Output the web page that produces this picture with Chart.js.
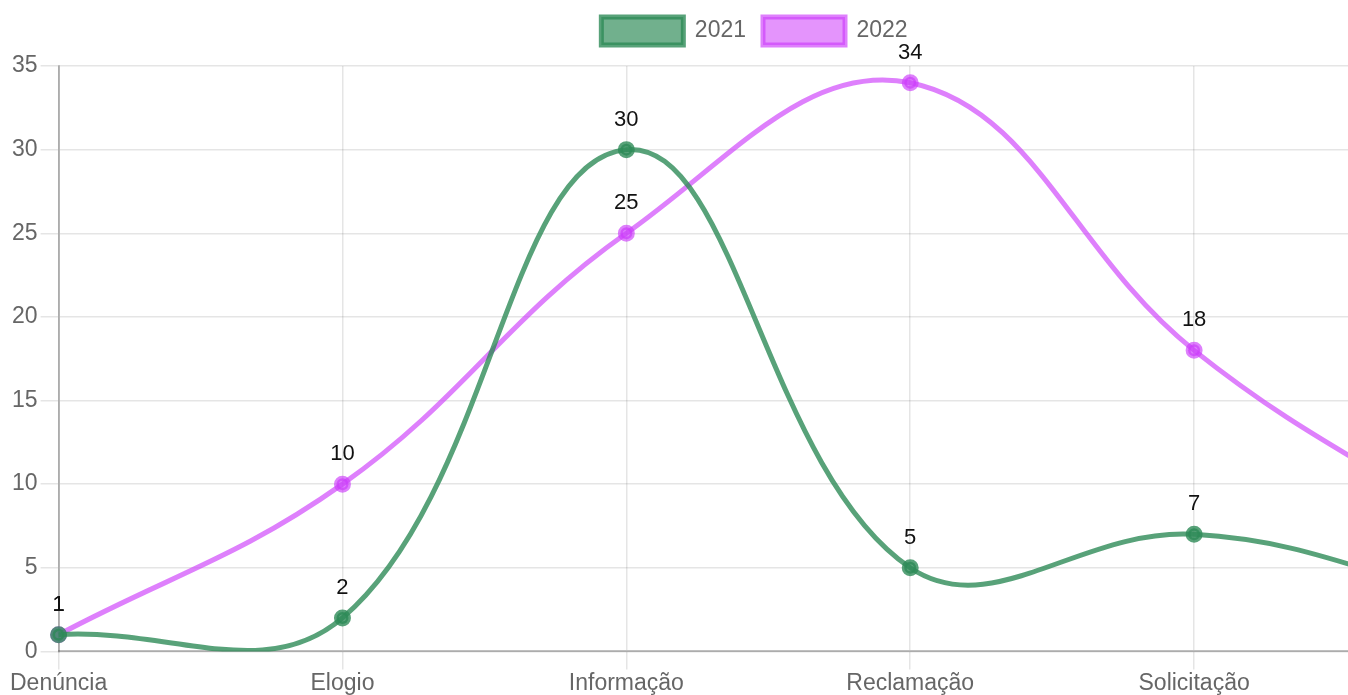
<!DOCTYPE html>
<html>
<head>
<meta charset="utf-8">
<script src="https://cdn.jsdelivr.net/npm/chart.js@4.4.0/dist/chart.umd.min.js"></script>
<style>
  html, body { margin: 0; padding: 0; overflow: hidden; background: #fff; }
  #wrap { width: 1500px; height: 697px; }
</style>
</head>
<body>
<div id="wrap"><canvas id="lineChart"></canvas></div>
<script>
// --- Data ---
const categories = ["Denúncia", "Elogio", "Informação", "Reclamação", "Solicitação", "Sugestão"];
const values2021 = [1, 2, 30, 5, 7, 3];
const values2022 = [1, 10, 25, 34, 18, 7];
const yTicksMax = 35;

// draws the value above each point (like datalabels)
const valueLabels = {
  id: 'valueLabels',
  afterDatasetsDraw(chart) {
    const ctx = chart.ctx;
    ctx.save();
    ctx.font = '22px "Liberation Sans", Arial, sans-serif';
    ctx.fillStyle = '#111';
    ctx.textAlign = 'center';
    ctx.textBaseline = 'middle';
    chart.data.datasets.forEach((ds, i) => {
      chart.getDatasetMeta(i).data.forEach((pt, j) => {
        ctx.fillText(ds.data[j], pt.x, pt.y - 30);
      });
    });
    ctx.restore();
  }
};

// a bit more room under the legend
const legendGap = {
  id: 'legendGap',
  beforeInit(chart) {
    const fit = chart.legend.fit;
    chart.legend.fit = function () {
      fit.bind(chart.legend)();
      this.height += 11;
    };
  }
};

Chart.defaults.font.family = '"Liberation Sans", Arial, sans-serif';
Chart.defaults.font.size = 23;
Chart.defaults.color = '#666';

const green = 'rgba(46, 139, 87, 0.8)';
const pink = 'rgba(205, 60, 250, 0.65)';

let ctx = document.getElementById("lineChart");
let chart = new Chart(ctx, {
  type: 'line',
  data: {
    labels: categories,
    datasets: [{
      label: '2021',
      data: values2021,
      borderColor: green,
      backgroundColor: 'rgba(46, 139, 87, 0.68)',
      pointBackgroundColor: green,
      pointBorderColor: green,
      borderWidth: 5,
      pointRadius: 6,
      tension: 0.4
    }, {
      label: '2022',
      data: values2022,
      borderColor: pink,
      backgroundColor: 'rgba(205, 60, 250, 0.55)',
      pointBackgroundColor: pink,
      pointBorderColor: pink,
      borderWidth: 5,
      pointRadius: 6,
      tension: 0.4
    }]
  },
  options: {
    responsive: true,
    maintainAspectRatio: false,
    animation: false,
    layout: { padding: { top: 0, left: 9, right: 0, bottom: 0 } },
    elements: { line: { capBezierPoints: false } },
    plugins: {
      legend: {
        position: 'top',
        labels: { boxWidth: 82, boxHeight: 28, padding: 17, font: { size: 23 } }
      },
      tooltip: { enabled: false }
    },
    scales: {
      x: {
        grid: { color: 'rgba(0,0,0,0.1)', lineWidth: 1.5, tickLength: 18 },
        border: { color: 'rgba(0,0,0,0.25)', width: 2 },
        ticks: { padding: 0, maxRotation: 0 },
        afterFit(axis) { axis.paddingRight = 22; }
      },
      y: {
        min: 0,
        max: yTicksMax,
        grid: { color: 'rgba(0,0,0,0.1)', lineWidth: 1.5, tickLength: 18 },
        border: { color: 'rgba(0,0,0,0.25)', width: 2 },
        ticks: { stepSize: 5, padding: 3 }
      }
    }
  },
  plugins: [valueLabels, legendGap]
});
</script>
</body>
</html>
